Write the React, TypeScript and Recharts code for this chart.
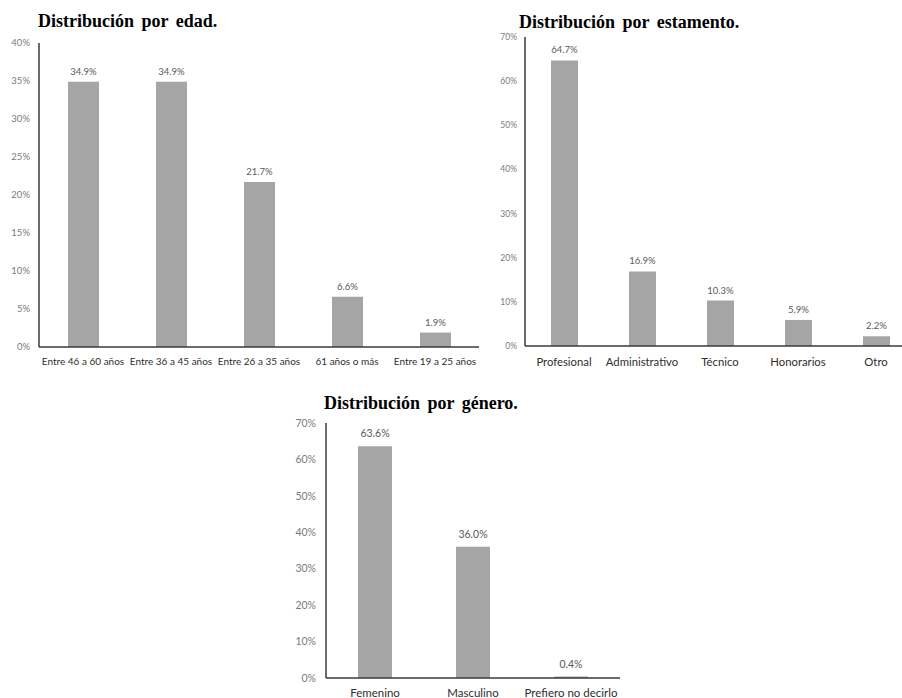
import React from 'react';
import { BarChart, Bar, XAxis, YAxis, LabelList } from 'recharts';

// Age distribution
const edadCategorias = ['Entre 46 a 60 años', 'Entre 36 a 45 años', 'Entre 26 a 35 años', '61 años o más', 'Entre 19 a 25 años'];
const edadValores = [34.9, 34.9, 21.7, 6.6, 1.9];
const edadTicks = [0, 5, 10, 15, 20, 25, 30, 35, 40];

// Distribution by staff category
const estamentoCategorias = ['Profesional', 'Administrativo', 'Técnico', 'Honorarios', 'Otro'];
const estamentoValores = [64.7, 16.9, 10.3, 5.9, 2.2];
const estamentoTicks = [0, 10, 20, 30, 40, 50, 60, 70];

// Gender distribution
const generoCategorias = ['Femenino', 'Masculino', 'Prefiero no decirlo'];
const generoValores = [63.6, 36.0, 0.4];
const generoTicks = [0, 10, 20, 30, 40, 50, 60, 70];

const BAR_COLOR = '#a5a5a5';
const AXIS_COLOR = '#3a3a3a';
const FONT = 'Lato, "Open Sans", sans-serif';

type PanelProps = {
  title: string;
  categories: string[];
  values: number[];
  ticks: number[];
  left: number;
  top: number;
  width: number;
  height: number;
  margin: { top: number; right: number; bottom: number; left: number };
  yAxisWidth: number;
  xAxisHeight: number;
  barSize: number;
  titleLeft: number;
  titleTop: number;
  yTickMargin: number;
  xTickMargin: number;
  xFont: number;
  yFont: number;
  labelFont: number;
  labelOffset: number;
};

function Panel(p: PanelProps) {
  const data = p.categories.map((c, i) => ({ categoria: c, valor: p.values[i] }));
  const max = p.ticks[p.ticks.length - 1];
  return (
    <>
      <div
        style={{
          position: 'absolute',
          left: p.titleLeft,
          top: p.titleTop,
          fontFamily: '"Liberation Serif", "Times New Roman", serif',
          fontWeight: 'bold',
          fontSize: 18,
          lineHeight: '18px',
          wordSpacing: 3,
          color: '#000',
          whiteSpace: 'nowrap',
        }}
      >
        {p.title}
      </div>
      <div style={{ position: 'absolute', left: p.left, top: p.top }}>
        <BarChart width={p.width} height={p.height} data={data} margin={p.margin}>
          <XAxis
            dataKey="categoria"
            type="category"
            interval={0}
            height={p.xAxisHeight}
            tickLine={false}
            tickSize={0}
            tickMargin={p.xTickMargin}
            axisLine={{ stroke: AXIS_COLOR, strokeWidth: 1.5 }}
            tick={{ fill: '#2e2e2e', fontSize: p.xFont, fontFamily: FONT }}
          />
          <YAxis
            type="number"
            domain={[0, max]}
            ticks={p.ticks}
            interval={0}
            width={p.yAxisWidth}
            tickLine={false}
            tickSize={0}
            tickMargin={p.yTickMargin}
            axisLine={{ stroke: AXIS_COLOR, strokeWidth: 1.5 }}
            tickFormatter={(v: number) => `${v}%`}
            tick={{ fill: '#7a7a7a', fontSize: p.yFont, fontFamily: FONT }}
          />
          <Bar dataKey="valor" fill={BAR_COLOR} barSize={p.barSize} isAnimationActive={false}>
            <LabelList
              dataKey="valor"
              position="top"
              offset={p.labelOffset}
              formatter={(v: number) => `${Number(v).toFixed(1)}%`}
              style={{ fill: '#595959', fontSize: p.labelFont, fontFamily: FONT }}
            />
          </Bar>
        </BarChart>
      </div>
    </>
  );
}

export default function App() {
  return (
    <div
      style={{
        position: 'absolute',
        left: 0,
        top: 0,
        width: 902,
        height: 698,
        overflow: 'hidden',
        background: '#fff',
      }}
    >
      <Panel
        title="Distribución por edad."
        categories={edadCategorias}
        values={edadValores}
        ticks={edadTicks}
        left={0}
        top={0}
        width={480}
        height={380}
        margin={{ top: 43, right: 1, bottom: 13, left: 0 }}
        yAxisWidth={39}
        xAxisHeight={20}
        barSize={31}
        titleLeft={38}
        titleTop={12}
        yTickMargin={9}
        xTickMargin={11}
        xFont={10}
        yFont={9.5}
        labelFont={9.5}
        labelOffset={7}
      />
      <Panel
        title="Distribución por estamento."
        categories={estamentoCategorias}
        values={estamentoValores}
        ticks={estamentoTicks}
        left={480}
        top={0}
        width={436}
        height={380}
        margin={{ top: 37, right: 1, bottom: 14, left: 0 }}
        yAxisWidth={45}
        xAxisHeight={20}
        barSize={27}
        titleLeft={519}
        titleTop={13}
        yTickMargin={8}
        xTickMargin={12}
        xFont={11.3}
        yFont={8.5}
        labelFont={9.5}
        labelOffset={7}
      />
      <Panel
        title="Distribución por género."
        categories={generoCategorias}
        values={generoValores}
        ticks={generoTicks}
        left={270}
        top={380}
        width={360}
        height={318}
        margin={{ top: 43, right: 10, bottom: 0, left: 0 }}
        yAxisWidth={56}
        xAxisHeight={20}
        barSize={34}
        titleLeft={324}
        titleTop={394}
        yTickMargin={10}
        xTickMargin={11}
        xFont={11.5}
        yFont={10.5}
        labelFont={10.5}
        labelOffset={9}
      />
    </div>
  );
}
